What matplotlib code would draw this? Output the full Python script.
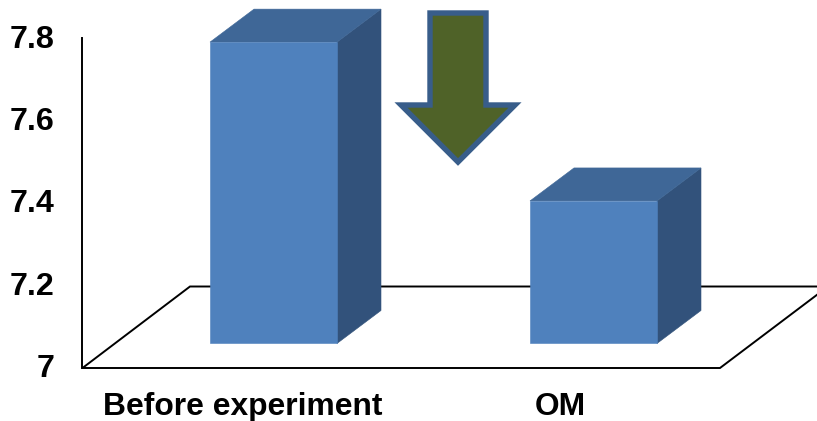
import matplotlib
matplotlib.use('Agg')
import matplotlib.pyplot as plt
from matplotlib.patches import Polygon

plt.rcParams['font.family'] = ['Liberation Sans', 'DejaVu Sans']

categories = ['Before experiment', 'OM']
values = [7.79, 7.405]
tick_values = [7, 7.2, 7.4, 7.6, 7.8]
tick_labels = ['7', '7.2', '7.4', '7.6', '7.8']

# x is in pixels, y is the value axis: 7 sits at pixel row 368, 7.8 at row 38
k = 0.8 / 330
fig = plt.figure(figsize=(8.17, 4.21), dpi=100)
ax = fig.add_axes([0, 0, 1, 1])
ax.set_xlim(0, 817)
ax.set_ylim(7 - (421 - 368) * k, 7 + 368 * k)
ax.axis('off')

def py(row):
    # pixel row to value
    return 7 + (368 - row) * k

# floor of the 3d box and the value axis
floor = [(82.5, 368), (720, 368), (828, 286.5), (190, 286.5)]
ax.add_patch(Polygon([(x, py(r)) for x, r in floor], closed=True, fc='white', ec='black', lw=1.4, zorder=1))
ax.plot([82.5, 82.5], [py(368), py(38)], color='black', lw=1.4, zorder=1)

# 3d bars
bar_left = [210, 530]
bar_width = 127
depth_x = 44
depth_y = 33 * k
base = py(343.5)
front_col = '#4F81BD'
top_col = '#3F6797'
side_col = '#32527B'
for left, v in zip(bar_left, values):
    right = left + bar_width
    ax.add_patch(Polygon([(right, base), (right + depth_x, base + depth_y), (right + depth_x, v + depth_y), (right, v)],
                         closed=True, fc=side_col, ec=side_col, lw=0.4, zorder=2))
    ax.add_patch(Polygon([(left, v), (right, v), (right + depth_x, v + depth_y), (left + depth_x, v + depth_y)],
                         closed=True, fc=top_col, ec=top_col, lw=0.4, zorder=2.5))
    ax.add_patch(Polygon([(left, base), (right, base), (right, v), (left, v)],
                         closed=True, fc=front_col, ec=front_col, lw=0.4, zorder=3))

# down arrow between the bars
arrow = [(430, 13), (486, 13), (486, 105), (515, 105), (458, 162), (401, 105), (430, 105)]
ax.add_patch(Polygon([(x, py(r)) for x, r in arrow], closed=True, fc='#4F6228', ec='#385D8A',
                     lw=3.9, joinstyle='miter', zorder=4))

for v, lab in zip(tick_values, tick_labels):
    ax.text(54.5, v + 2 * k, lab, ha='right', va='center_baseline', fontsize=23.2, fontweight='bold', color='black')

for lab, cx in zip(categories, [243, 560]):
    ax.text(cx, py(415), lab, ha='center', va='baseline', fontsize=22.9, fontweight='bold', color='black')

fig.savefig('out.png', dpi=100)
